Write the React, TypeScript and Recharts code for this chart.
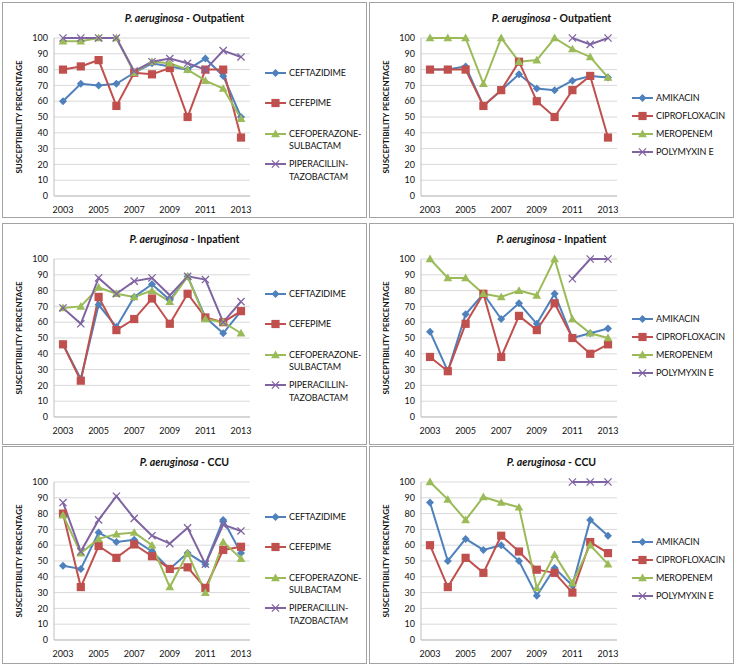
import React from 'react';
import { LineChart, Line, XAxis, YAxis, CartesianGrid, Legend } from 'recharts';

const years = ['2003', '2004', '2005', '2006', '2007', '2008', '2009', '2010', '2011', '2012', '2013'];
const yTicks = [0, 10, 20, 30, 40, 50, 60, 70, 80, 90, 100];

const betaLactams = ['CEFTAZIDIME', 'CEFEPIME', 'CEFOPERAZONE-\nSULBACTAM', 'PIPERACILLIN-\nTAZOBACTAM'];
const others = ['AMIKACIN', 'CIPROFLOXACIN', 'MEROPENEM', 'POLYMYXIN E'];

// Outpatient
const outCeftazidime = [60, 71, 70, 71, 78, 84, 82, 80, 87, 76, 50];
const outCefepime = [80, 82, 86, 57, 78, 77, 81, 50, 80, 80, 37];
const outCefoSulb = [98, 98, 100, 100, 78, 85, 84, 80, 73, 68, 49];
const outPipTazo = [100, 100, 100, 100, 79, 85, 87, 84, 80, 92, 88];
const outAmikacin = [80, 80, 82, 57, 67, 77, 68, 67, 73, 76, 75];
const outCipro = [80, 80, 80, 57, 67, 85, 60, 50, 67, 76, 37];
const outMeropenem = [100, 100, 100, 71, 100, 85, 86, 100, 93, 88, 75];
const outPolymyxin = [null, null, null, null, null, null, null, null, 100, 96, 100];

// Inpatient
const inCeftazidime = [46, 24, 71, 57, 76, 84, 74, 89, 63, 53, 67];
const inCefepime = [46, 23, 76, 55, 62, 75, 59, 78, 63, 60, 67];
const inCefoSulb = [69, 70, 82, 78, 76, 80, 73, 89, 62, 60, 53];
const inPipTazo = [69, 59, 88, 78, 86, 88, 77, 89, 87, 60, 73];
const inAmikacin = [54, 29, 65, 78, 62, 72, 59, 78, 50, 53, 56];
const inCipro = [38, 29, 59, 78, 38, 64, 55, 72, 50, 40, 46];
const inMeropenem = [100, 88, 88, 78, 76, 80, 77, 100, 62, 53, 50];
const inPolymyxin = [null, null, null, null, null, null, null, null, 87.5, 100, 100];

// CCU
const ccuCeftazidime = [47, 45, 68, 62, 63.5, 56, 45, 55, 48, 76, 55];
const ccuCefepime = [80, 33.5, 59.5, 52, 60.5, 53, 45, 46, 33, 57, 59];
const ccuCefoSulb = [79, 55, 64, 67, 68, 60, 33.5, 55, 30, 62, 51.5];
const ccuPipTazo = [87, 56, 76, 91, 77, 66, 61, 71, 48, 73, 69];
const ccuAmikacin = [87, 50, 64, 57, 60, 50, 28, 45.5, 34.5, 76, 66];
const ccuCipro = [60, 33.5, 52, 42.5, 66, 56, 44.5, 42.5, 30, 62, 55];
const ccuMeropenem = [100, 89, 76, 90.5, 87, 84, 33, 54, 36, 60, 48];
const ccuPolymyxin = [null, null, null, null, null, null, null, null, 100, 100, 100];

const colors = ['#4F81BD', '#C0504D', '#9BBB59', '#8064A2'];
const shapes = ['diamond', 'square', 'triangle', 'cross'];

const FONT = 'Lato, "Open Sans", sans-serif';

function marker(shape: string, cx: number, cy: number, color: string, key?: string) {
  if (shape === 'diamond') {
    const r = 4;
    return <path key={key} d={`M${cx},${cy - r}L${cx + r},${cy}L${cx},${cy + r}L${cx - r},${cy}Z`} fill={color} />;
  }
  if (shape === 'square') {
    const r = 4.1;
    return <rect key={key} x={cx - r} y={cy - r} width={r * 2} height={r * 2} fill={color} />;
  }
  if (shape === 'triangle') {
    const r = 4.4;
    return <path key={key} d={`M${cx},${cy - r}L${cx + r},${cy + r * 0.75}L${cx - r},${cy + r * 0.75}Z`} fill={color} />;
  }
  const r = 3.6;
  return (
    <path key={key} d={`M${cx - r},${cy - r}L${cx + r},${cy + r}M${cx - r},${cy + r}L${cx + r},${cy - r}`}
      stroke={color} strokeWidth={1.3} fill="none" />
  );
}

interface PanelProps {
  title: string;
  names: string[];
  series: (number | null)[][];
  left: number;
  top: number;
  height: number;
}

function Panel({ title, names, series, left, top, height }: PanelProps) {
  const data = years.map((year, i) => {
    const row: Record<string, string | number | null> = { year };
    series.forEach((s, k) => { row[`s${k}`] = s[i]; });
    return row;
  });
  const twoLine = names.some((n) => n.includes('\n'));
  const itemH = twoLine ? 30.5 : 18.1;
  const legendTop = twoLine ? 63.5 : 88.5;

  const legendContent = () => (
    <div style={{ fontFamily: FONT, fontSize: 9, letterSpacing: -0.1, color: '#111' }}>
      {names.map((n, k) => (
        <div key={n} style={{ display: 'flex', height: itemH, alignItems: 'flex-start' }}>
          <svg width={22} height={12} style={{ flex: 'none' }}>
            <line x1={0} y1={6} x2={21} y2={6} stroke={colors[k]} strokeWidth={2} />
            {marker(shapes[k], 10.5, 6, colors[k])}
          </svg>
          <div style={{ whiteSpace: 'pre', lineHeight: '12.5px', marginLeft: 2 }}>{n}</div>
        </div>
      ))}
    </div>
  );

  return (
    <div style={{
      position: 'absolute', left, top, width: 365, height, boxSizing: 'border-box',
      border: '1px solid #a3a3a3', background: '#fff',
    }}>
      <div style={{
        position: 'absolute', left: 0, right: 0, top: 9, textAlign: 'center',
        fontFamily: FONT, fontWeight: 700, fontSize: 10.5, color: '#111',
      }}>
        <i>P. aeruginosa</i> - {title}
      </div>
      <LineChart width={363} height={215} data={data}
        margin={{ top: 35, right: 116, bottom: 0, left: 0 }}>
        <CartesianGrid vertical={false} stroke="#d9d9d9" />
        <XAxis dataKey="year" interval={1} padding={{ left: 9, right: 9 }} height={22}
          tickLine={false} tickMargin={5} axisLine={{ stroke: '#bfbfbf' }}
          tick={{ fill: '#111', fontSize: 9, fontFamily: FONT }} />
        <YAxis domain={[0, 100]} ticks={yTicks} width={51} interval={0}
          tickLine={false} tickSize={4} axisLine={{ stroke: '#bfbfbf' }}
          tick={{ fill: '#111', fontSize: 9, fontFamily: FONT }}
          label={{
            value: 'SUSCEPTIBILITY PERCENTAGE', angle: -90, position: 'insideLeft', offset: 16,
            style: { textAnchor: 'middle', fontFamily: FONT, fontWeight: 700, fontSize: 8, fill: '#111' },
          }} />
        <Legend layout="horizontal" align="center" verticalAlign="middle" content={legendContent}
          wrapperStyle={{ left: 262, top: legendTop, width: 100, height: 'auto' }} />
        {series.map((_, k) => (
          <Line key={k} dataKey={`s${k}`} name={names[k]} stroke={colors[k]} strokeWidth={2}
            isAnimationActive={false} connectNulls={false}
            dot={(p: any) => (p.cy == null || p.value == null
              ? <g key={`e${k}-${p.index}`} />
              : marker(shapes[k], p.cx, p.cy, colors[k], `d${k}-${p.index}`))}
            activeDot={false} />
        ))}
      </LineChart>
    </div>
  );
}

export default function App() {
  const rows = [
    { title: 'Outpatient', top: 2, height: 216,
      a: [outCeftazidime, outCefepime, outCefoSulb, outPipTazo],
      b: [outAmikacin, outCipro, outMeropenem, outPolymyxin] },
    { title: 'Inpatient', top: 223, height: 222,
      a: [inCeftazidime, inCefepime, inCefoSulb, inPipTazo],
      b: [inAmikacin, inCipro, inMeropenem, inPolymyxin] },
    { title: 'CCU', top: 446, height: 218,
      a: [ccuCeftazidime, ccuCefepime, ccuCefoSulb, ccuPipTazo],
      b: [ccuAmikacin, ccuCipro, ccuMeropenem, ccuPolymyxin] },
  ];
  return (
    <div style={{ position: 'absolute', left: 0, top: 0, width: 739, height: 672, background: '#fff' }}>
      {rows.map((r) => (
        <React.Fragment key={r.title}>
          <Panel title={r.title} names={betaLactams} series={r.a} left={2} top={r.top} height={r.height} />
          <Panel title={r.title} names={others} series={r.b} left={369} top={r.top} height={r.height} />
        </React.Fragment>
      ))}
    </div>
  );
}
